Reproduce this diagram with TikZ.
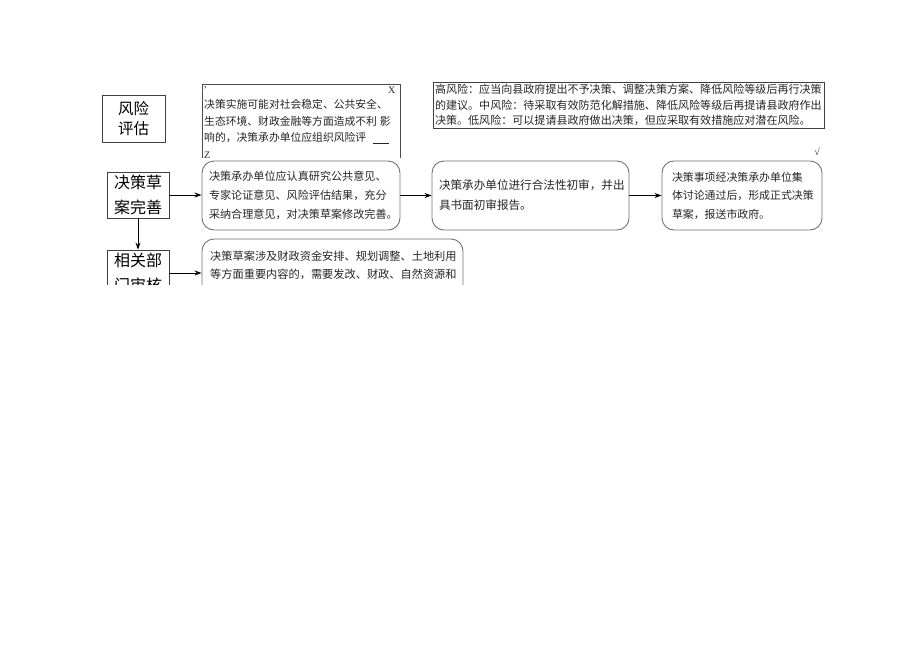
\documentclass[tikz,border=0pt]{standalone}
\usepackage{fontspec}
\newfontfamily\cjk{Noto Sans CJK SC}
\newfontfamily\lserif{Liberation Serif}
\usetikzlibrary{arrows.meta}
\begin{document}
\begin{tikzpicture}[x=1pt,y=-1pt,
  lbox/.style={draw=black!75, line width=0.8pt, inner sep=0pt, align=center,
    font=\cjk\fontsize{16}{25}\selectfont, text=black},
  rbox/.style={draw=black!55, line width=0.9pt, rounded corners=12pt, inner ysep=0pt,
    align=left, text=black!85},
  sbox/.style={draw=black!70, line width=0.9pt},
  arr/.style={-{Stealth[length=7pt,width=5pt]}, line width=0.9pt, black},
  txt/.style={inner sep=0pt, anchor=west, text=black!85, font=\cjk\fontsize{10.8}{18}\selectfont}
]
\useasboundingbox[fill=white] (0,0) rectangle (920,651);
\begin{scope}
\clip (0,0) rectangle (920,284);
% left column
\node[lbox, minimum width=63pt, minimum height=47pt, font=\cjk\fontsize{15.5}{20}\selectfont] (risk) at (133.5,118.5) {风险\\评估};
\node[lbox, minimum width=62pt, minimum height=46pt] (draft) at (138,195) {决策草\\案完善};
\node[lbox, minimum width=62pt, minimum height=46pt] (review) at (138,273) {相关部\\门审核};
% open box with risk text
\coordinate (ob1) at (202,158);
\coordinate (ob2) at (202,84);
\coordinate (ob3) at (400,84);
\coordinate (ob4) at (400,158);
\draw[sbox] (ob1) -- (ob2) -- (ob3) -- (ob4);
\node[txt, font=\lserif\fontsize{10}{12}\selectfont] (c1) at (204,88) {,};
\node[txt, font=\lserif\fontsize{10}{12}\selectfont] (x1) at (388,90) {X};
\node[txt] (t1) at (204,104) {决策实施可能对社会稳定、公共安全、};
\node[txt] (t2) at (204,121) {生态环境、财政金融等方面造成不利\hspace{3pt}影};
\node[txt] (t3) at (204,138) {响的，决策承办单位应组织风险评\hspace{7pt}\underline{\hspace{16pt}}};
\node[txt, font=\lserif\fontsize{10}{12}\selectfont] (z1) at (204,155) {Z};
% high risk box
\node[draw=black!75, line width=0.9pt, minimum width=391pt, minimum height=46pt, inner xsep=2pt, inner ysep=0pt,
  text width=387pt, align=left, text=black!85, font=\cjk\fontsize{11.05}{15.5}\selectfont] (hr) at (628.5,105)
  {高风险：应当向县政府提出不予决策、调整决策方案、降低风险等级后再行决策\\的建议。中风险：待采取有效防范化解措施、降低风险等级后再提请县政府作出\\决策。低风险：可以提请县政府做出决策，但应采取有效措施应对潜在风险。};
\node[inner sep=0pt, text=black!80, font=\lserif\fontsize{10}{10}\selectfont] (chk) at (817,152) {√};
% row of rounded boxes
\node[rbox, minimum height=69pt, inner xsep=7pt, text width=184pt, font=\cjk\fontsize{11.1}{19}\selectfont] (a) at (301,195.5)
  {决策承办单位应认真研究公共意见、\\专家论证意见、风险评估结果，充分\\采纳合理意见，对决策草案修改完善。};
\node[rbox, minimum height=69pt, inner xsep=7pt, text width=183pt, font=\cjk\fontsize{11.6}{20}\selectfont] (b) at (530.5,195.5)
  {决策承办单位进行合法性初审，并出\\具书面初审报告。};
\node[rbox, minimum height=69pt, inner xsep=10pt, text width=140pt, font=\cjk\fontsize{10.9}{18.5}\selectfont] (c) at (742,195.5)
  {决策事项经决策承办单位集\\体讨论通过后，形成正式决策\\草案，报送市政府。};
\node[rbox, minimum width=261pt, minimum height=91pt] (d) at (332.5,284.5) {};
\node[txt, font=\cjk\fontsize{11.2}{18}\selectfont, text=black!85] (d1) at (210,256) {决策草案涉及财政资金安排、规划调整、土地利用};
\node[txt, font=\cjk\fontsize{11.2}{18}\selectfont, text=black!85] (d2) at (210,274) {等方面重要内容的，需要发改、财政、自然资源和};
% connectors
\draw[arr] (draft.east) -- (draft.east -| a.west);
\draw[arr] (a.east) -- (b.west);
\draw[arr] (b.east) -- (c.west);
\draw[arr] (draft.south) -- (review.north);
\draw[arr] (review.east) -- (review.east -| d.west);
\end{scope}
\end{tikzpicture}
\end{document}
